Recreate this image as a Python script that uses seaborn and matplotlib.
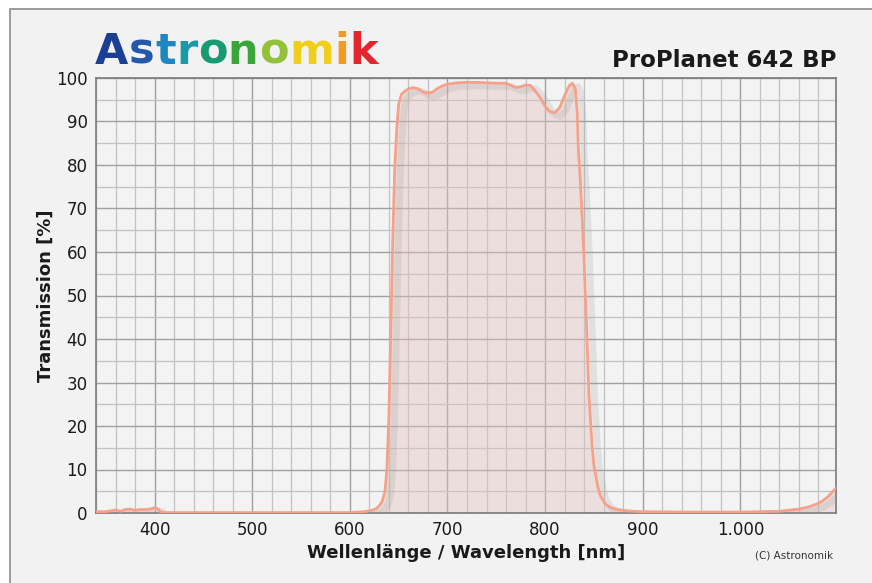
import numpy as np
import pandas as pd
import matplotlib
matplotlib.use("Agg")
import matplotlib.pyplot as plt
import matplotlib.patheffects as pe
from matplotlib.patches import Rectangle
from matplotlib.ticker import MultipleLocator, FuncFormatter
import seaborn as sns

# ---- data ----
wavelength = [340, 350, 355, 360, 365, 370, 375, 380, 385, 390, 395, 400, 403, 406, 410,
              450, 500, 550, 600, 615, 622, 627, 630, 633, 636, 638, 640, 642, 644, 646, 648,
              650, 653, 656, 660, 665, 670, 675, 680, 685, 690, 695, 700, 710, 720, 730,
              740, 750, 760, 770, 775, 780, 785, 790, 795, 800, 805, 810, 815, 820, 825,
              828, 831, 833, 834, 836, 838, 840, 842, 845, 848, 850, 854, 857, 862, 867,
              872, 880, 890, 900, 950, 1000, 1040, 1060, 1070, 1080, 1085, 1090, 1095, 1100]
transmission = [0.3, 0.3, 0.5, 0.7, 0.4, 0.8, 0.9, 0.6, 0.8, 0.8, 0.9, 1.2, 1.0, 0.3, 0.1,
                0.1, 0.1, 0.1, 0.1, 0.3, 0.6, 1.0, 1.6, 2.6, 5.0, 10.0, 22.0, 42.0, 63.0, 79.0, 88.0,
                94.0, 96.3, 96.9, 97.5, 97.8, 97.5, 96.8, 96.5, 96.8, 97.6, 98.2, 98.6, 98.9, 99.0, 99.0,
                98.9, 98.8, 98.8, 97.8, 98.0, 98.4, 98.3, 97.0, 95.5, 93.5, 92.3, 92.0, 93.2, 96.0, 98.3,
                98.8, 97.5, 92.0, 84.0, 77.0, 68.0, 58.0, 46.0, 27.0, 16.0, 11.0, 6.0, 3.8, 2.0, 1.3,
                0.9, 0.6, 0.4, 0.3, 0.2, 0.2, 0.4, 0.9, 1.4, 2.2, 2.9, 3.8, 5.0, 6.2]
x_ticks = [400, 500, 600, 700, 800, 900, 1000]
y_ticks = [0, 10, 20, 30, 40, 50, 60, 70, 80, 90, 100]
title_text = "ProPlanet 642 BP"
logo_text = "Astronomik"
logo_colors = ["#1c3f96", "#2458a8", "#1f86c2", "#1a9aa6", "#189a72", "#3aa63a",
               "#93c23a", "#f0cf1c", "#f29a22", "#e3262e"]

df = pd.DataFrame({"wl": wavelength, "T": transmission})

sns.set_theme(style="white")
plt.rcParams["font.family"] = ["DejaVu Sans"]

W, H = 872, 583
fig = plt.figure(figsize=(W / 100, H / 100), dpi=100)
fig.patch.set_facecolor("white")
fig.add_artist(Rectangle((10 / W, -0.1), 1.0, 1.1 - 9 / H, transform=fig.transFigure,
                         facecolor="#f2f2f2", edgecolor="#8c8c8c", linewidth=1.2, zorder=-10))

ax = fig.add_axes([96 / W, 1 - 513 / H, (836 - 96) / W, (513 - 78) / H])
ax.set_facecolor("#f3f3f3")

ax.fill_between(df["wl"], 0, df["T"], color="#e2c2be", alpha=0.42, zorder=1, linewidth=0)
sns.lineplot(data=df, x="wl", y="T", ax=ax, color="#f6a18a", linewidth=2.0,
             estimator=None, sort=False, zorder=3,
             path_effects=[pe.SimpleLineShadow(offset=(4, -2.5), shadow_color="#a0a0a0",
                                               alpha=0.22, linewidth=5),
                           pe.Normal()])

ax.set_xlim(340, 1098)
ax.set_ylim(0, 100)
ax.xaxis.set_minor_locator(MultipleLocator(20))
ax.yaxis.set_minor_locator(MultipleLocator(5))
ax.set_xticks(x_ticks)
ax.set_yticks(y_ticks)
ax.xaxis.set_major_formatter(FuncFormatter(lambda v, p: f"{int(v):,}".replace(",", ".")))
ax.grid(which="major", color="#a0a0a0", linewidth=1.0, zorder=0)
ax.grid(which="minor", color="#c2c2c2", linewidth=0.9, zorder=0)
ax.set_axisbelow(True)
ax.tick_params(which="both", length=0, labelsize=12, colors="#1a1a1a", pad=6)
for s in ax.spines.values():
    s.set_color("#7a7a7a")
    s.set_linewidth(1.2)

ax.set_xlabel("Wellenlänge / Wavelength [nm]", fontsize=13, fontweight="bold",
              color="#1a1a1a", labelpad=3)
ax.set_ylabel("Transmission [%]", fontsize=13, fontweight="bold",
              color="#1a1a1a", labelpad=1)

fig.text(836 / W, 1 - 67 / H, title_text, ha="right", va="baseline",
         fontsize=16.5, fontweight="bold", color="#1a1a1a")
fig.text(833 / W, 1 - 558 / H, "(C) Astronomik", ha="right", va="baseline",
         fontsize=7.5, color="#333333")

# logo: each letter coloured
renderer = fig.canvas.get_renderer()
x_px = 95
for ch, col in zip(logo_text, logo_colors):
    t = fig.text(x_px / W, 1 - 64 / H, ch, ha="left", va="baseline", fontsize=31,
                 fontweight="heavy", color=col)
    bb = t.get_window_extent(renderer=renderer)
    x_px += bb.width + 0.5

fig.savefig("out.png", dpi=100, facecolor=fig.get_facecolor())
